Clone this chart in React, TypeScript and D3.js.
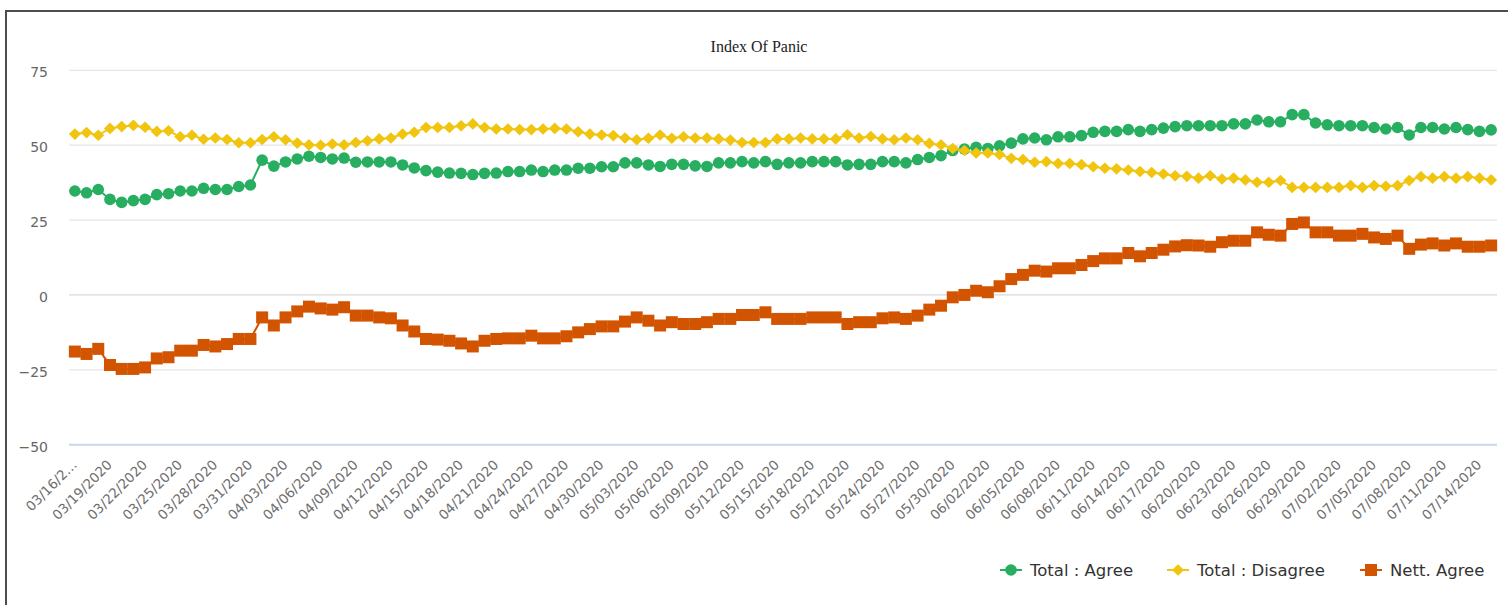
import React, { useEffect } from "react";
import * as d3 from "d3";

const startDate = new Date(2020, 2, 16);
const endDate = new Date(2020, 6, 16);
const categories: string[] = d3.timeDay.range(startDate, endDate).map(d3.timeFormat("%m/%d/%Y"));

const totalAgree: number[] = [
  34.7, 34.1, 35.2, 31.9, 30.9, 31.5, 31.9, 33.5, 33.8, 34.7, 34.7, 35.6, 35.2, 35.2, 36.2, 36.7,
  45.0, 43.0, 44.4, 45.4, 46.3, 45.9, 45.4, 45.7, 44.3, 44.4, 44.4, 44.4, 43.4, 42.4, 41.5, 41.0,
  40.7, 40.6, 40.2, 40.6, 40.7, 41.2, 41.2, 41.7, 41.2, 41.7, 41.7, 42.3, 42.3, 42.8, 42.8, 44.1,
  44.1, 43.4, 42.9, 43.6, 43.6, 43.1, 42.9, 44.1, 44.1, 44.5, 44.1, 44.5, 43.6, 44.1, 44.1, 44.5,
  44.5, 44.5, 43.4, 43.6, 43.6, 44.5, 44.5, 44.1, 45.2, 45.9, 46.5, 48.2, 48.7, 49.3, 48.9, 49.8,
  50.7, 52.1, 52.4, 51.8, 52.8, 52.8, 53.2, 54.3, 54.6, 54.6, 55.2, 54.6, 55.2, 55.7, 56.2, 56.5,
  56.5, 56.5, 56.5, 57.1, 57.1, 58.4, 57.8, 57.8, 60.2, 60.2, 57.4, 56.8, 56.5, 56.5, 56.5, 55.9,
  55.4, 55.9, 53.4, 55.9, 55.9, 55.4, 55.9, 55.2, 54.6, 55.1,
];

const totalDisagree: number[] = [
  53.7, 54.2, 53.3, 55.6, 56.2, 56.6, 56.0, 54.6, 54.8, 52.8, 53.3, 52.0, 52.4, 51.9, 50.8, 50.8,
  51.9, 52.8, 51.8, 50.7, 50.1, 50.0, 50.4, 50.1, 50.9, 51.5, 52.1, 52.4, 53.7, 54.3, 55.9, 55.9,
  55.9, 56.5, 57.1, 55.9, 55.4, 55.4, 55.2, 55.2, 55.4, 55.6, 55.4, 54.5, 53.7, 53.4, 53.2, 52.4,
  51.8, 52.3, 53.4, 52.3, 52.8, 52.4, 52.4, 52.1, 51.7, 50.9, 50.9, 50.9, 52.1, 52.1, 52.4, 52.1,
  52.1, 52.1, 53.5, 52.4, 52.9, 52.1, 51.8, 52.4, 51.8, 50.6, 50.1, 48.9, 48.2, 47.4, 47.4, 46.9,
  45.6, 45.2, 44.3, 44.5, 43.9, 43.9, 43.5, 42.8, 42.3, 42.1, 41.7, 41.2, 40.9, 40.4, 39.8, 39.6,
  39.0, 39.8, 38.7, 39.0, 38.4, 37.6, 37.6, 38.2, 35.9, 35.9, 35.9, 35.9, 35.9, 36.5, 35.9, 36.5,
  36.3, 36.5, 38.2, 39.5, 39.0, 39.5, 39.0, 39.5, 39.0, 38.4,
];

const nettAgree: number[] = [
  -18.9, -19.7, -18.0, -23.4, -24.7, -24.7, -24.2, -21.2, -20.8, -18.6, -18.6, -16.7, -17.2, -16.4, -14.7, -14.7,
  -7.5, -10.2, -7.5, -5.5, -3.9, -4.5, -4.9, -4.1, -6.9, -6.9, -7.5, -7.8, -10.2, -12.2, -14.7, -14.9,
  -15.3, -16.2, -17.2, -15.3, -14.7, -14.5, -14.5, -13.6, -14.5, -14.5, -13.8, -12.5, -11.4, -10.5, -10.5, -8.9,
  -7.5, -8.6, -10.2, -9.1, -9.7, -9.7, -9.1, -8.0, -8.0, -6.7, -6.7, -5.8, -8.0, -8.0, -8.0, -7.5,
  -7.5, -7.5, -9.7, -9.1, -9.1, -7.8, -7.5, -8.0, -6.9, -4.9, -3.6, -0.8, 0.0, 1.4, 0.9, 2.9,
  5.3, 6.7, 8.1, 7.8, 8.9, 8.9, 10.0, 11.3, 12.2, 12.2, 14.0, 12.9, 14.0, 15.1, 16.2, 16.6,
  16.5, 16.1, 17.6, 18.1, 18.1, 20.9, 20.1, 19.8, 23.7, 24.2, 20.9, 20.9, 19.8, 19.8, 20.4, 19.2,
  18.7, 19.8, 15.4, 16.8, 17.2, 16.5, 17.2, 16.1, 16.1, 16.5,
];

const yTicks: number[] = [-50, -25, 0, 25, 50, 75];
const seriesNames: string[] = ["Total : Agree", "Total : Disagree", "Nett. Agree"];
const seriesColors: string[] = ["#27ae60", "#f1c40f", "#d35400"];
const seriesData: number[][] = [totalAgree, totalDisagree, nettAgree];
const seriesSymbols: string[] = ["circle", "diamond", "square"];
const chartTitle = "Index Of Panic";

const W = 1508;
const H = 605;
const plotLeft = 69;
const plotRight = 1497;
const plotTop = 70.3;
const plotBottom = 444.7;

const FONT = "'DejaVu Sans', 'Lucida Grande', Verdana, sans-serif";

function Marker({ kind, x, y, color }: { kind: string; x: number; y: number; color: string }) {
  if (kind === "circle") return <circle cx={x} cy={y} r={5.8} fill={color} />;
  if (kind === "diamond")
    return <path d={`M${x},${y - 5.8}L${x + 6},${y}L${x},${y + 5.8}L${x - 6},${y}Z`} fill={color} />;
  return <rect x={x - 6} y={y - 6} width={12} height={12} fill={color} />;
}

export default function App() {
  useEffect(() => {
    document.body.style.margin = "0";
    document.body.style.overflow = "hidden";
  }, []);

  const x = d3.scalePoint<string>().domain(categories).range([plotLeft, plotRight]).padding(0.5);
  const y = d3.scaleLinear().domain([-50, 75]).range([plotBottom, plotTop]);
  const line = d3
    .line<number>()
    .x((_, i) => x(categories[i]) as number)
    .y((d) => y(d));

  const labelIdx = categories.map((_, i) => i).filter((i) => i % 3 === 0);

  const legendStarts = [1000, 1167, 1360];

  return (
    <svg width={W} height={H} style={{ position: "absolute", left: 0, top: 0, background: "#fff" }}>
      <rect x={0} y={0} width={W} height={H} fill="#fff" />
      <rect x={6} y={11} width={1520} height={620} fill="none" stroke="#4d4d4d" strokeWidth={2} />
      <text x={759} y={52} textAnchor="middle" fontFamily="'Liberation Serif', 'Times New Roman', serif" fontSize={16} fill="#222">
        {chartTitle}
      </text>

      {yTicks.map((t) => (
        <g key={t}>
          <line
            x1={plotLeft}
            x2={plotRight}
            y1={y(t)}
            y2={y(t)}
            stroke={t === -50 ? "#ccd6eb" : t === 0 ? "#d8d8d8" : "#e6e6e6"}
            strokeWidth={t === -50 ? 2 : 1.3}
          />
          <text x={48} y={y(t) + 7} textAnchor="end" fontFamily={FONT} fontSize={14} fill="#666">
            {t < 0 ? "\u2212" + Math.abs(t) : String(t)}
          </text>
        </g>
      ))}

      {labelIdx.map((i) => {
        const cx = (x(categories[i]) as number) + 3;
        const cy = plotBottom + 21;
        const label = i === 0 ? categories[i].slice(0, 7) + "\u2026" : categories[i];
        return (
          <text
            key={i}
            x={cx}
            y={cy}
            textAnchor="end"
            transform={`rotate(-45 ${cx} ${cy})`}
            fontFamily={FONT}
            fontSize={13.5}
            fill="#6e6e6e"
          >
            {label}
          </text>
        );
      })}

      {seriesData.map((data, s) => (
        <g key={s}>
          <path d={line(data) || ""} fill="none" stroke={seriesColors[s]} strokeWidth={2} />
          {data.map((v, i) => (
            <Marker key={i} kind={seriesSymbols[s]} x={x(categories[i]) as number} y={y(v)} color={seriesColors[s]} />
          ))}
        </g>
      ))}

      {seriesNames.map((name, s) => {
        const lx = legendStarts[s];
        const ly = 570;
        return (
          <g key={name}>
            <line x1={lx} x2={lx + 22} y1={ly} y2={ly} stroke={seriesColors[s]} strokeWidth={2} />
            <Marker kind={seriesSymbols[s]} x={lx + 11} y={ly} color={seriesColors[s]} />
            <text x={lx + 30} y={ly + 6} fontFamily={FONT} fontSize={16.5} fill="#333">
              {name}
            </text>
          </g>
        );
      })}
    </svg>
  );
}
